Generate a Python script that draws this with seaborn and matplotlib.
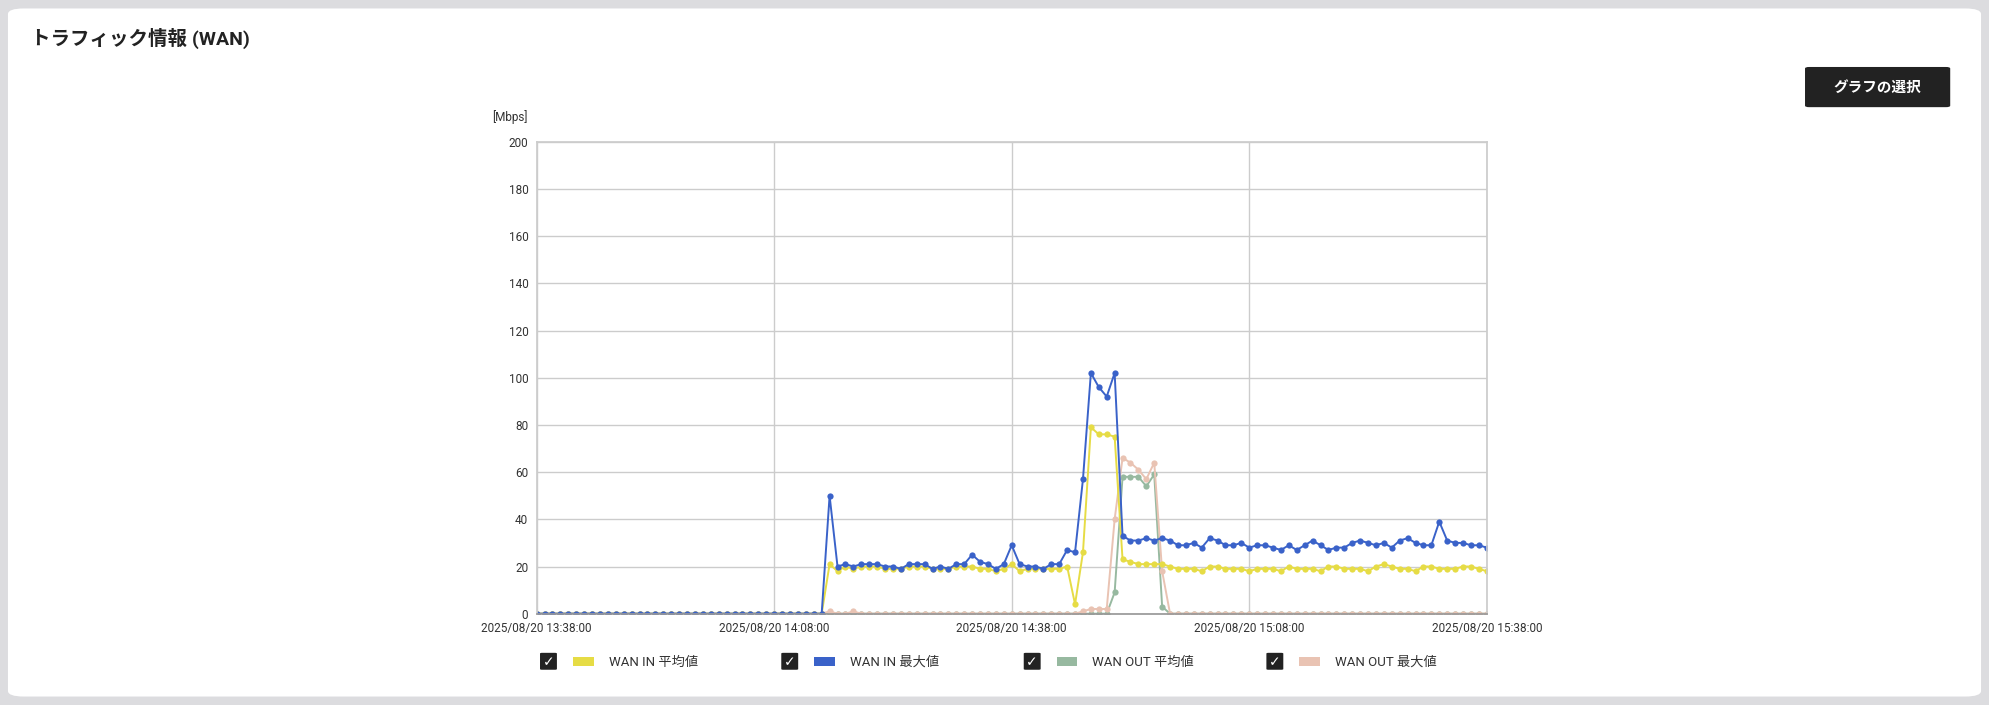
import numpy as np
import pandas as pd
import seaborn as sns
import matplotlib.pyplot as plt
from matplotlib.patches import FancyBboxPatch, Rectangle

sns.set_theme(style="white")
plt.rcParams['font.family'] = ['Roboto', 'Noto Sans CJK JP', 'DejaVu Sans']

minutes = list(range(121))
tick_pos = [0, 30, 60, 90, 120]
tick_labels = ["2025/08/20 13:38:00", "2025/08/20 14:08:00", "2025/08/20 14:38:00",
               "2025/08/20 15:08:00", "2025/08/20 15:38:00"]

in_max = ([0] * 37 + [50] +
          [20,21,20,21,21,21,20,20,19,21,21,21,19,20,19,21,21,25,22,21,19,21,29,21,20,20,19,21,21] +
          [27,26,57,102,96,92,102] +
          [33,31,31,32,31,32,31,29,29,30,28,32,31,29,29,30,28,29,29,28,27,29,27,29,31,29,27,28,28,30,
           31,30,29,30,28,31,32,30,29,29,39,31,30,30,29,29,28])
in_avg = ([0] * 37 + [21] +
          [18,20,19,20,20,20,19,19,19,20,20,20,19,19,19,20,20,20,19,19,18,19,21,18,19,19,19,19,19] +
          [20,4,26,79,76,76,75,23,22,21,21,21,21] +
          [20,19,19,19,18,20,20,19,19,19,18,19,19,19,18,20,19,19,19,18,
           20,20,19,19,19,18,20,21,20,19,19,18,20,20,19,19,19,20,20,19,18])
out_avg = [0] * 73 + [9, 58, 58, 58, 54, 59, 3] + [0] * 41
out_max = ([0] * 37 + [1, 0, 0, 1] + [0] * 28 + [1, 2, 2, 2, 40, 66, 64, 61, 57, 64, 18] + [0] * 41)

series = [("WAN IN 平均値", in_avg, "#e6dc45"),
          ("WAN IN 最大値", in_max, "#3a62c9"),
          ("WAN OUT 平均値", out_avg, "#97b9a0"),
          ("WAN OUT 最大値", out_max, "#e9c3b3")]
draw_order = [2, 3, 0, 1]

fig = plt.figure(figsize=(19.89, 7.05), dpi=100)
fig.patch.set_facecolor("#dcdcdf")
card = FancyBboxPatch((0.004, 0.012), 0.992, 0.976, boxstyle="round,pad=0,rounding_size=0.008",
                      transform=fig.transFigure, facecolor="white", edgecolor="none", zorder=-10)
fig.patches.append(card)
fig.text(0.0155, 0.945, "トラフィック情報 (WAN)", fontsize=14, fontweight="bold", color="#222222", va="center")
btn = FancyBboxPatch((0.9075, 0.848), 0.073, 0.057, boxstyle="round,pad=0,rounding_size=0.002",
                     transform=fig.transFigure, facecolor="#222222", edgecolor="none")
fig.patches.append(btn)
fig.text(0.944, 0.876, "グラフの選択", fontsize=10.5, fontweight="bold", color="white", ha="center", va="center")

ax = fig.add_axes([0.2698, 0.1295, 0.4777, 0.6695])
ax.set_facecolor("white")
for i in draw_order:
    name, vals, col = series[i]
    df = pd.DataFrame({"t": minutes, "v": vals})
    sns.lineplot(data=df, x="t", y="v", ax=ax, color=col, marker="o", markersize=4.5,
                 markeredgewidth=0, linewidth=1.4)
ax.set_xlim(0, 120)
ax.set_ylim(0, 200)
ax.set_xticks(tick_pos)
ax.set_xticklabels(tick_labels, fontsize=8.5, color="#333333")
ax.set_yticks(range(0, 201, 20))
ax.set_yticklabels([str(v) for v in range(0, 201, 20)], fontsize=8.5, color="#333333")
ax.tick_params(length=0, pad=6)
ax.grid(True, color="#cccccc", linewidth=1)
ax.set_axisbelow(True)
ax.set_xlabel("")
ax.set_ylabel("")
for s in ax.spines.values():
    s.set_color("#cccccc")
ax.spines["bottom"].set_color("#999999")
fig.text(0.2475, 0.834, "[Mbps]", fontsize=8.5, color="#333333", va="center")

leg_x = [0.2715, 0.3928, 0.5147, 0.6367]
for (name, vals, col), x in zip(series, leg_x):
    fig.patches.append(FancyBboxPatch((x, 0.05), 0.0085, 0.024, boxstyle="round,pad=0,rounding_size=0.001",
                                      transform=fig.transFigure, facecolor="#222222", edgecolor="none"))
    fig.text(x + 0.00425, 0.061, "✓", fontsize=10, color="white", ha="center", va="center",
             family=["DejaVu Sans"], fontweight="bold")
    fig.patches.append(Rectangle((x + 0.0165, 0.0555), 0.0105, 0.012, transform=fig.transFigure,
                                 facecolor=col, edgecolor="none"))
    fig.text(x + 0.0345, 0.061, name, fontsize=9.5, color="#333333", va="center")

fig.savefig("out.png", dpi=100, facecolor=fig.get_facecolor())
